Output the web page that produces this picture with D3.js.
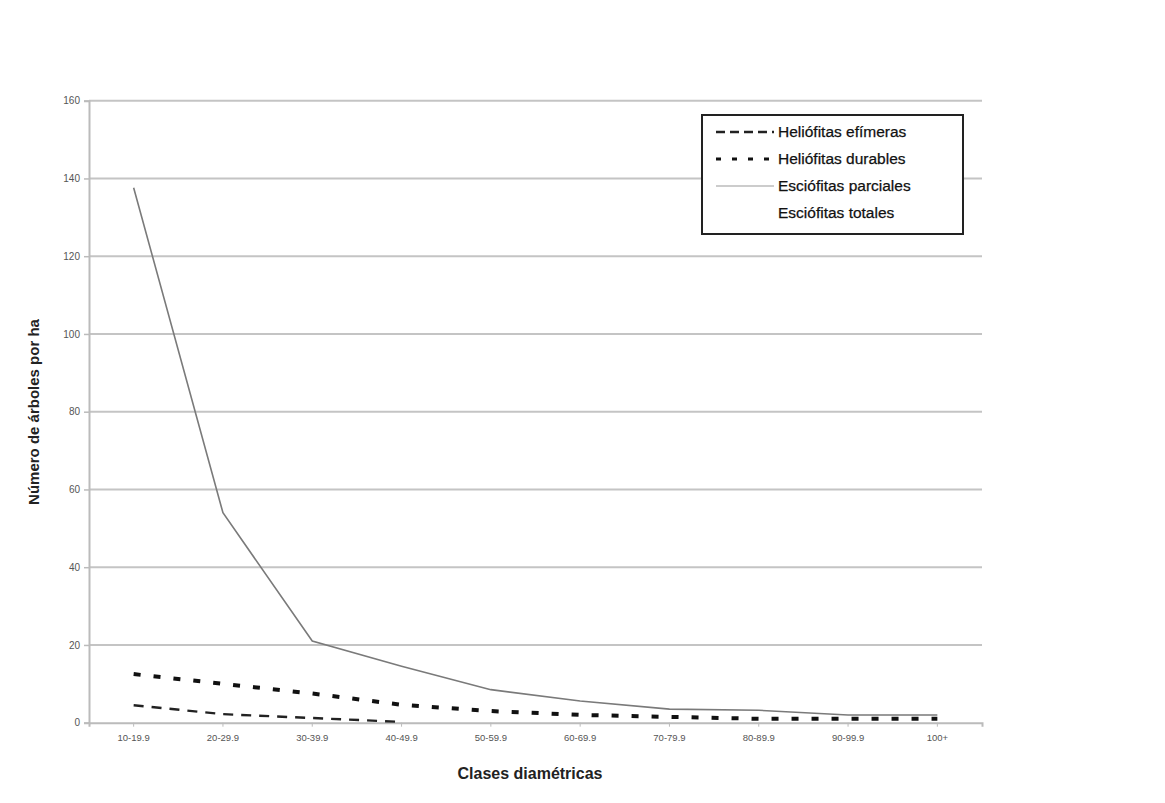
<!DOCTYPE html>
<html><head><meta charset="utf-8">
<script src="https://cdn.jsdelivr.net/npm/d3@7"></script>
<style>
body{margin:0;background:#fff;}
text{font-family:"Liberation Sans",Arial,sans-serif;}
</style></head>
<body><svg id="c" width="1165" height="803"></svg>
<script>
const categories = ["10-19.9","20-29.9","30-39.9","40-49.9","50-59.9","60-69.9","70-79.9","80-89.9","90-99.9","100+"];
const yTicks = [0,20,40,60,80,100,120,140,160];
const heliofitasEfimeras = [4.5, 2.2, 1.2, 0.2, null, null, null, null, null, null];
const heliofitasDurables = [12.5, 10, 7.5, 4.6, 3, 2, 1.5, 1, 1, 1];
const esciofitasParciales = [137.6, 54, 21, 14.5, 8.5, 5.6, 3.5, 3.2, 2, 2];
const seriesNames = ["Heliófitas efímeras","Heliófitas durables","Esciófitas parciales","Esciófitas totales"];

const svg = d3.select("#c");
const L = 89, R = 982, T = 100.7, B = 722.7;
const x = d3.scaleBand().domain(categories).range([L, R]);
const y = d3.scaleLinear().domain([0,160]).range([B, T]);

// gridlines
svg.append("g").selectAll("line").data(yTicks.filter(d=>d>0)).join("line")
  .attr("x1", L).attr("x2", R).attr("y1", d=>y(d)).attr("y2", d=>y(d))
  .attr("stroke", "#c4c4c4").attr("stroke-width", 2);

// y axis
const yAxis = d3.axisLeft(y).tickValues(yTicks).tickSize(5).tickPadding(4);
const gy = svg.append("g").attr("transform", `translate(${L},0)`).call(yAxis);
gy.select(".domain").attr("stroke", "#bbb").attr("stroke-width", 2);
gy.selectAll(".tick line").attr("stroke", "#bbb").attr("stroke-width", 1.5);
gy.selectAll(".tick text").attr("font-size", 10).attr("fill", "#555");

// x axis
const xAxis = d3.axisBottom(x).tickSize(4).tickPadding(8);
const gx = svg.append("g").attr("transform", `translate(0,${B})`).call(xAxis);
gx.select(".domain").attr("stroke", "#bbb").attr("stroke-width", 2);
gx.selectAll(".tick line").attr("stroke", "#bbb");
gx.selectAll(".tick text").attr("font-size", 9.5).attr("fill", "#555");

const cx = d => x(d) + x.bandwidth()/2;
const line = d3.line().defined(d => d.v != null).x(d => cx(d.c)).y(d => y(d.v));
const mk = arr => categories.map((c,i)=>({c, v: arr[i]}));

svg.append("path").datum(mk(esciofitasParciales)).attr("d", line)
  .attr("fill","none").attr("stroke","#7a7a7a").attr("stroke-width",1.6);
svg.append("path").datum(mk(heliofitasDurables)).attr("d", line)
  .attr("fill","none").attr("stroke","#111").attr("stroke-width",4).attr("stroke-dasharray","7,13");
svg.append("path").datum(mk(heliofitasEfimeras)).attr("d", line)
  .attr("fill","none").attr("stroke","#222").attr("stroke-width",2.4).attr("stroke-dasharray","10,8");

// axis titles
svg.append("text").attr("x", 530).attr("y", 779).attr("text-anchor","middle")
  .attr("font-size", 16).attr("font-weight","bold").attr("fill","#222").text("Clases diamétricas");
svg.append("text").attr("transform","translate(39,412) rotate(-90)").attr("text-anchor","middle")
  .attr("font-size", 15).attr("font-weight","bold").attr("fill","#222").text("Número de árboles por ha");

// legend
const lg = svg.append("g");
lg.append("rect").attr("x",702).attr("y",115).attr("width",261).attr("height",119)
  .attr("fill","#fff").attr("stroke","#222").attr("stroke-width",2);
const styles = [
  {stroke:"#222", w:2.5, dash:"9,5"},
  {stroke:"#111", w:3, dash:"5,11"},
  {stroke:"#bbb", w:1.5, dash:null},
  {stroke:"none", w:0, dash:null}
];
seriesNames.forEach((n,i)=>{
  const yy = 132 + i*27;
  const s = styles[i];
  lg.append("line").attr("x1",716).attr("x2",774).attr("y1",yy).attr("y2",yy)
    .attr("stroke",s.stroke).attr("stroke-width",s.w).attr("stroke-dasharray",s.dash);
  lg.append("text").attr("x",778).attr("y",yy+5).attr("font-size",15.5).attr("fill","#111")
    .attr("stroke","#111").attr("stroke-width",0.25).text(n);
});
</script></body></html>
